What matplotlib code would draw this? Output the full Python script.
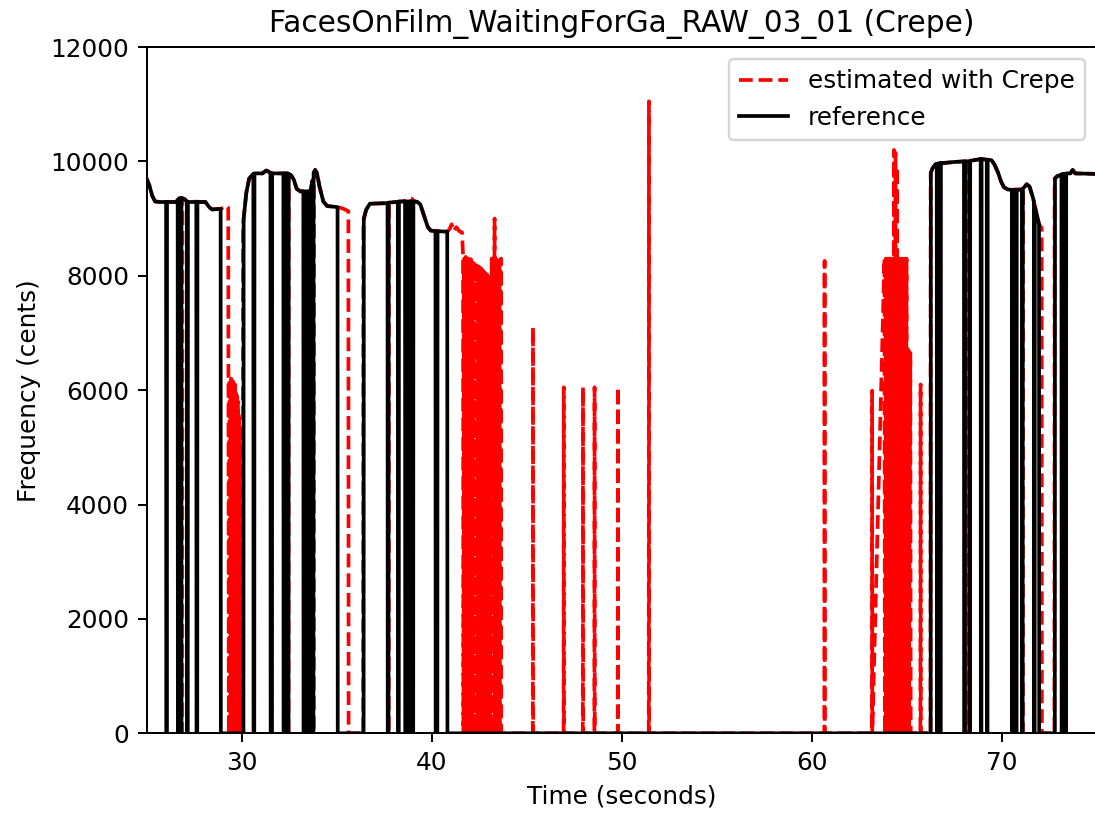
import numpy as np
import matplotlib
matplotlib.use("Agg")
import matplotlib.pyplot as plt

TITLE = "FacesOnFilm_WaitingForGa_RAW_03_01 (Crepe)"

# Reference pitch track as (time [s], frequency [cents]); 0 means unvoiced
ref_seg_a = [
    (24.90, 9760), (25.00, 9700), (25.15, 9580), (25.30, 9400), (25.45, 9300),
    (25.70, 9290), (26.03, 9290), (26.04, 0), (26.07, 0), (26.08, 9290),
    (26.55, 9290), (26.64, 9320), (26.65, 0), (26.68, 0), (26.69, 9350),
    (26.78, 9360), (26.79, 0), (26.82, 0), (26.83, 9360), (27.00, 9340),
    (27.12, 9300), (27.13, 0), (27.17, 0), (27.18, 9290), (27.62, 9290),
    (27.63, 0), (27.67, 0), (27.68, 9290), (28.10, 9290), (28.30, 9200),
    (28.45, 9160), (28.90, 9170), (28.91, 0),
]
ref_seg_b = [
    (30.10, 0), (30.11, 9000), (30.25, 9450), (30.40, 9700), (30.62, 9780),
    (30.63, 0), (30.67, 0), (30.68, 9790), (31.10, 9790), (31.30, 9840),
    (31.52, 9800), (31.53, 0), (31.60, 0), (31.61, 9790), (32.20, 9790),
    (32.21, 0), (32.25, 0), (32.26, 9790), (32.43, 9790), (32.44, 0),
    (32.47, 0), (32.48, 9780), (32.60, 9760), (32.75, 9680), (32.90, 9520),
    (33.10, 9475), (33.25, 9475), (33.26, 0), (33.30, 0), (33.31, 9475),
    (33.42, 9475), (33.43, 0), (33.47, 0), (33.48, 9475), (33.58, 9480),
    (33.59, 0), (33.63, 0), (33.64, 9500), (33.72, 9650), (33.73, 0),
    (33.78, 0), (33.79, 9800), (33.87, 9850), (33.97, 9790), (34.10, 9560),
    (34.30, 9300), (34.50, 9220), (35.05, 9200), (35.06, 0),
]
ref_seg_c = [
    (36.42, 0), (36.43, 9000), (36.55, 9150), (36.75, 9260), (37.68, 9270),
    (37.69, 0), (37.73, 0), (37.74, 9280), (38.22, 9290), (38.23, 0),
    (38.27, 0), (38.28, 9300), (38.60, 9300), (38.61, 0), (38.65, 0),
    (38.66, 9300), (38.80, 9300), (38.81, 0), (38.85, 0), (38.86, 9300),
    (38.98, 9300), (38.99, 0), (39.03, 0), (39.04, 9300), (39.25, 9290),
    (39.40, 9250), (39.60, 9050), (39.80, 8850), (39.95, 8790), (40.20, 8780),
    (40.21, 0), (40.30, 0), (40.31, 8780), (40.82, 8770), (40.83, 0),
]
ref_seg_d = [
    (66.25, 0), (66.26, 9800), (66.35, 9880), (66.50, 9950), (66.57, 9960),
    (66.58, 0), (66.61, 0), (66.62, 9960), (66.74, 9970), (66.75, 0),
    (66.78, 0), (66.79, 9970), (67.50, 9990), (68.00, 10000), (68.01, 0),
    (68.05, 0), (68.06, 10000), (68.28, 10000), (68.29, 0), (68.32, 0),
    (68.33, 10010), (68.70, 10030), (68.88, 10040), (68.89, 0), (68.92, 0),
    (68.93, 10040), (69.20, 10030), (69.21, 0), (69.24, 0), (69.25, 10030),
    (69.45, 10020), (69.60, 9950), (69.80, 9800), (69.95, 9650), (70.10, 9550),
    (70.30, 9510), (70.52, 9500), (70.53, 0), (70.56, 0), (70.57, 9500),
    (70.73, 9500), (70.74, 0), (70.77, 0), (70.78, 9500), (71.05, 9510),
    (71.06, 0), (71.09, 0), (71.10, 9520), (71.30, 9600), (71.45, 9560),
    (71.60, 9400), (71.68, 9300), (71.69, 0), (71.72, 0), (71.73, 9200),
    (71.85, 9050), (71.95, 8900), (71.96, 0),
]
ref_seg_e = [
    (72.78, 0), (72.79, 9700), (72.90, 9740), (73.13, 9770), (73.14, 0),
    (73.17, 0), (73.18, 9780), (73.33, 9780), (73.34, 0), (73.37, 0),
    (73.38, 9790), (73.60, 9790), (73.72, 9850), (73.85, 9790), (75.10, 9780),
]

# Crepe estimate, same layout
est_seg_a = [
    (24.90, 9760), (25.00, 9700), (25.15, 9580), (25.30, 9400), (25.45, 9300),
    (25.70, 9290), (26.55, 9290), (26.70, 9350), (26.84, 9360), (26.85, 0),
    (26.88, 0), (26.89, 9360), (27.00, 9340), (27.15, 9300), (28.10, 9290),
    (28.30, 9200), (28.45, 9160), (28.90, 9170), (29.10, 9200), (29.20, 9230),
    (29.30, 9190), (29.31, 6150), (29.33, 0), (29.36, 6180), (29.38, 0),
    (29.41, 6100), (29.43, 0), (29.46, 6200), (29.48, 0), (29.51, 6050),
    (29.53, 0), (29.56, 6150), (29.58, 0), (29.61, 6000), (29.63, 0),
    (29.66, 6100), (29.68, 0), (29.71, 5950), (29.73, 0), (29.76, 5900),
    (29.78, 0), (29.81, 5800), (29.83, 0), (29.86, 5600), (29.88, 0),
    (29.91, 5300), (29.93, 0),
]
est_seg_b = [
    (30.07, 0), (30.08, 8900), (30.25, 9450), (30.40, 9700), (30.62, 9780),
    (31.10, 9790), (31.30, 9840), (31.54, 9800), (31.55, 0), (31.58, 0),
    (31.59, 9790), (32.43, 9790), (32.44, 0), (32.47, 0), (32.48, 9780),
    (32.60, 9760), (32.75, 9680), (32.90, 9520), (33.10, 9475), (33.64, 9500),
    (33.74, 9680), (33.75, 0), (33.80, 0), (33.81, 9810), (33.87, 9850),
    (33.97, 9790), (34.10, 9560), (34.30, 9300), (34.50, 9220), (35.05, 9200),
    (35.30, 9180), (35.50, 9150), (35.62, 9130), (35.63, 0),
]
est_seg_c = [
    (36.40, 0), (36.41, 8950), (36.55, 9150), (36.75, 9260), (37.70, 9270),
    (37.71, 0), (37.74, 0), (37.75, 9280), (38.50, 9300), (38.70, 9330),
    (38.95, 9350), (38.96, 0), (38.99, 0), (39.00, 9320), (39.25, 9290),
    (39.40, 9250), (39.60, 9050), (39.80, 8850), (39.95, 8790), (40.83, 8770),
    (40.95, 8820), (41.05, 8900), (41.15, 8780), (41.30, 8850), (41.45, 8780),
    (41.60, 8760),
]
# octave-jumping burst around 42-43.7 s
est_burst_a = [
    (41.65, 8350), (41.67, 0), (41.72, 8300), (41.74, 0), (41.79, 8330),
    (41.81, 0), (41.86, 8280), (41.88, 0), (41.93, 8300), (41.95, 0),
    (42.00, 8260), (42.02, 0), (42.07, 8290), (42.09, 0), (42.14, 8300),
    (42.16, 0), (42.21, 8250), (42.23, 0), (42.28, 8230), (42.30, 0),
    (42.35, 8250), (42.37, 0), (42.42, 8200), (42.44, 0), (42.49, 8160),
    (42.51, 0), (42.56, 8180), (42.58, 0), (42.63, 8120), (42.65, 0),
    (42.70, 8090), (42.72, 0), (42.77, 8060), (42.79, 0), (42.84, 8040),
    (42.86, 0), (42.91, 8020), (42.93, 0), (42.98, 8000), (43.00, 0),
    (43.05, 7980), (43.07, 0), (43.16, 8300), (43.18, 0), (43.23, 8280),
    (43.25, 0), (43.31, 9000), (43.33, 0), (43.37, 8300), (43.39, 0),
    (43.43, 8280), (43.45, 0), (43.50, 8300), (43.52, 0), (43.57, 8260),
    (43.59, 0), (43.64, 8300), (43.66, 0),
]
# isolated spurious detections in the silent stretch
est_gap = [
    (45.32, 0), (45.33, 7100), (45.34, 0), (46.94, 0), (46.95, 6050),
    (46.96, 0), (47.95, 0), (47.96, 6050), (47.97, 0), (48.56, 0),
    (48.57, 6050), (48.58, 0), (49.79, 0), (49.80, 6050), (49.81, 0),
    (51.42, 0), (51.43, 11050), (51.44, 0), (60.66, 0), (60.67, 8260),
    (60.68, 0), (63.16, 0), (63.17, 5990), (63.18, 0),
]
est_burst_b = [
    (63.82, 8300), (63.84, 0), (63.89, 8300), (63.91, 0), (63.96, 8280),
    (63.98, 0), (64.03, 8300), (64.05, 0), (64.10, 8300), (64.12, 0),
    (64.17, 8300), (64.19, 0), (64.24, 8300), (64.26, 0), (64.32, 10200),
    (64.34, 0), (64.40, 10150), (64.42, 0), (64.48, 9900), (64.50, 0),
    (64.56, 8300), (64.58, 0), (64.63, 8300), (64.65, 0), (64.70, 8280),
    (64.72, 0), (64.77, 8300), (64.79, 0), (64.84, 8300), (64.86, 0),
    (64.91, 8300), (64.93, 0), (64.98, 8300), (65.00, 0), (65.08, 6700),
    (65.10, 0), (65.18, 6650), (65.20, 0), (65.71, 0), (65.72, 6100),
    (65.73, 0),
]
est_seg_d = [
    (66.24, 0), (66.25, 9800), (66.35, 9880), (66.50, 9950), (67.50, 9990),
    (68.08, 10000), (68.09, 0), (68.12, 0), (68.13, 10000), (68.70, 10030),
    (68.88, 10040), (69.20, 10030), (69.45, 10020), (69.60, 9950), (69.80, 9800),
    (69.95, 9650), (70.10, 9550), (70.30, 9510), (71.05, 9510), (71.06, 0),
    (71.10, 0), (71.11, 9520), (71.30, 9600), (71.45, 9560), (71.60, 9400),
    (71.75, 9200), (71.85, 9050), (71.95, 8900), (72.05, 8850), (72.09, 8840),
    (72.10, 0),
]
est_seg_e = [
    (72.76, 0), (72.77, 9700), (72.90, 9740), (73.60, 9790), (73.72, 9850),
    (73.85, 9790), (75.10, 9780),
]


def join_segments(*segments):
    """
    Chain the (time, cents) segments into one continuous track
    :return: times, cents as numpy arrays
    """
    points = [p for seg in segments for p in seg]
    times = np.array([p[0] for p in points], dtype=float)
    cents = np.array([p[1] for p in points], dtype=float)
    return times, cents


def main():
    ref_t, ref_c = join_segments(ref_seg_a, ref_seg_b, ref_seg_c,
                                 ref_seg_d, ref_seg_e)
    est_t, est_c = join_segments(est_seg_a, est_seg_b, est_seg_c, est_burst_a,
                                 est_gap, est_burst_b, est_seg_d, est_seg_e)

    dpi = 178
    fig = plt.figure(figsize=(1095 / dpi, 813 / dpi), dpi=dpi)
    ax = fig.add_axes([146.5 / 1095, 79.7 / 813,
                       (1097 - 146.5) / 1095, (733.3 - 47) / 813])

    ax.plot(est_t, est_c, "r--", label="estimated with Crepe")
    ax.plot(ref_t, ref_c, "k-", label="reference")

    ax.set_xlim(25, 75)
    ax.set_ylim(0, 12000)
    ax.set_title(TITLE)
    ax.set_xlabel("Time (seconds)")
    ax.set_ylabel("Frequency (cents)")
    ax.legend(loc="upper right")

    fig.savefig("out.png", dpi=dpi)


if __name__ == "__main__":
    main()
